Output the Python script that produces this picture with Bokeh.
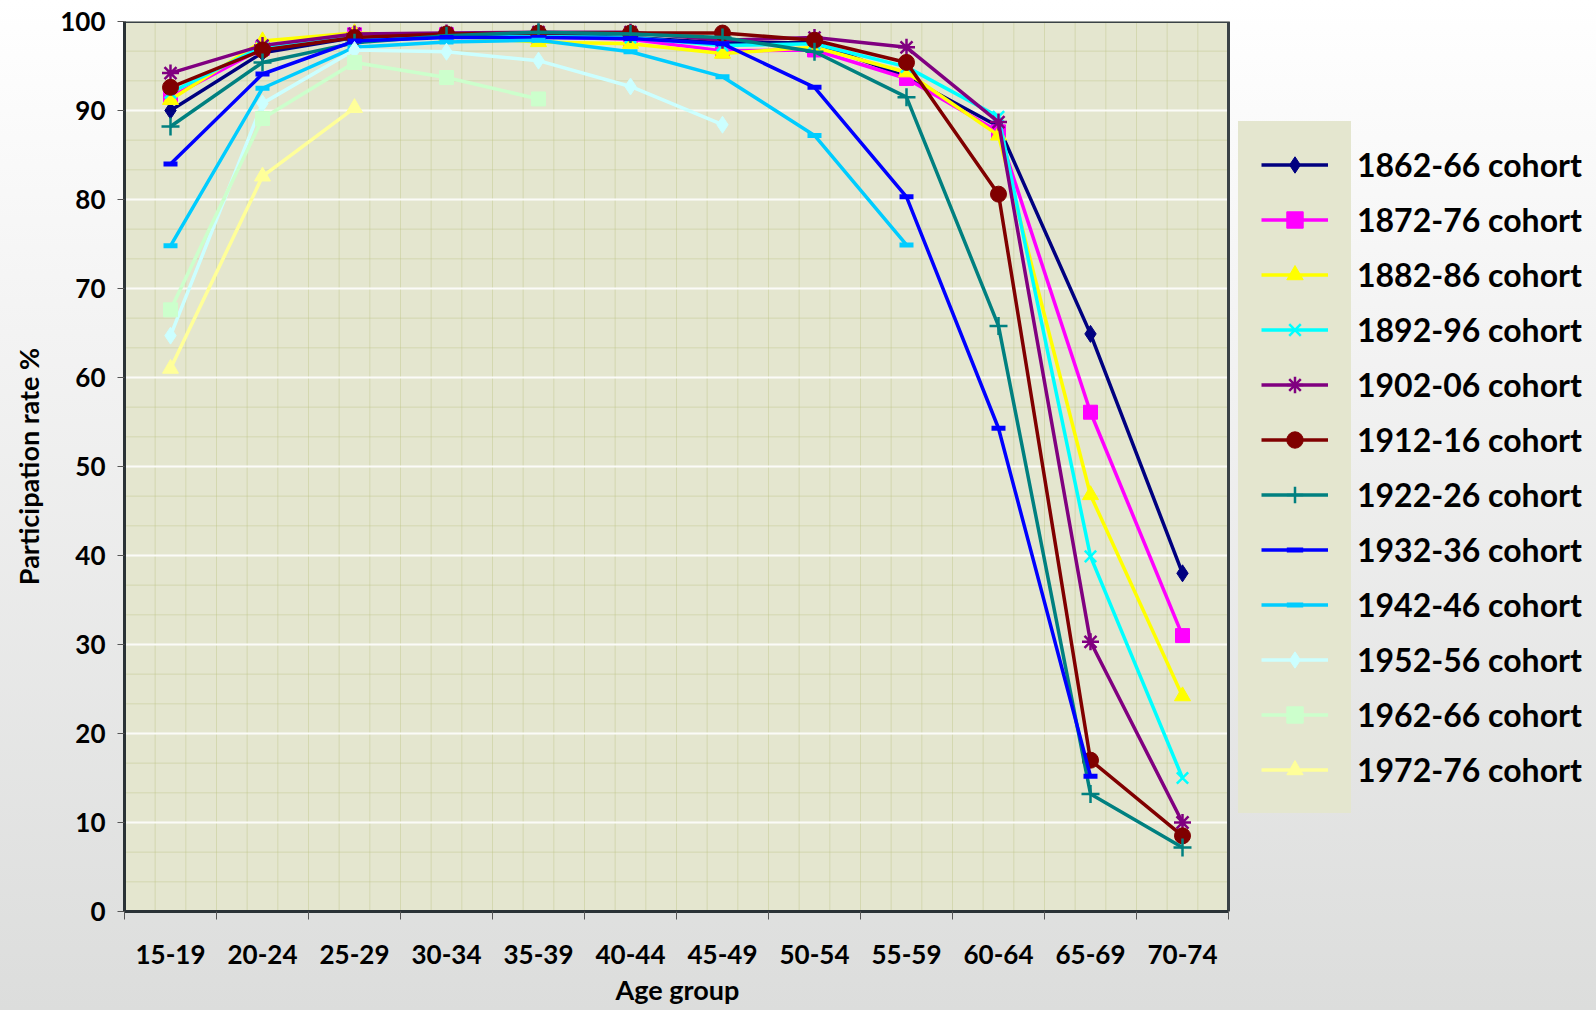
from bokeh.plotting import figure
from bokeh.models import FixedTicker, Legend, LegendItem, ColumnDataSource, Title
from bokeh.embed import file_html
from bokeh.resources import INLINE
import numpy as np

# ---------------- data ----------------
age_groups = ["15-19", "20-24", "25-29", "30-34", "35-39", "40-44",
              "45-49", "50-54", "55-59", "60-64", "65-69", "70-74"]

cohorts = ["1862-66 cohort", "1872-76 cohort", "1882-86 cohort", "1892-96 cohort",
           "1902-06 cohort", "1912-16 cohort", "1922-26 cohort", "1932-36 cohort",
           "1942-46 cohort", "1952-56 cohort", "1962-66 cohort", "1972-76 cohort"]

c1862 = [90.0, 96.5, 98.2, 98.4, 98.5, 98.2, 97.6, 97.6, 93.8, 88.2, 64.9, 38.0]
c1872 = [91.5, 97.0, 98.5, 98.5, 98.3, 98.0, 96.7, 96.8, 93.6, 87.6, 56.1, 31.0]
c1882 = [91.2, 97.8, 98.7, 98.4, 97.7, 97.5, 96.4, 97.1, 94.3, 87.2, 46.8, 24.2]
c1892 = [92.0, 97.2, 98.2, 98.3, 98.3, 98.2, 97.3, 97.5, 94.9, 89.3, 39.9, 15.0]
c1902 = [94.2, 97.3, 98.6, 98.7, 98.8, 98.8, 97.9, 98.2, 97.1, 88.7, 30.3, 10.0]
c1912 = [92.6, 96.8, 98.2, 98.6, 98.7, 98.7, 98.7, 97.9, 95.4, 80.6, 17.0, 8.5]
c1922 = [88.2, 95.4, 97.6, 98.4, 98.8, 98.6, 98.2, 96.6, 91.5, 65.8, 13.2, 7.2]
c1932 = [84.0, 94.1, 97.8, 98.2, 98.2, 98.1, 97.5, 92.6, 80.3, 54.3, 15.2, None]
c1942 = [74.8, 92.5, 97.1, 97.7, 97.9, 96.6, 93.8, 87.2, 74.9, None, None, None]
c1952 = [64.7, 90.8, 96.8, 96.6, 95.6, 92.7, 88.4, None, None, None, None, None]
c1962 = [67.6, 89.1, 95.4, 93.7, 91.3, None, None, None, None, None, None, None]
c1972 = [61.0, 82.6, 90.3, None, None, None, None, None, None, None, None, None]

series = [c1862, c1872, c1882, c1892, c1902, c1912, c1922, c1932, c1942, c1952, c1962, c1972]

colors = ["#000080", "#ff00ff", "#ffff00", "#00ffff", "#800080", "#800000",
          "#008080", "#0000ff", "#00ccff", "#ccffff", "#ccffcc", "#ffff99"]
markers = ["diamond", "square", "triangle", "x", "asterisk", "circle",
           "cross", "dash", "dash", "diamond", "square", "triangle"]
msizes = [17, 14, 16, 16, 17, 16, 18, 14, 14, 17, 14, 16]

y_ticks = list(range(0, 101, 10))

FONT = "Lato"
PLOT_BG = "#e4e6cf"
BORDER = "#3a4247"

n_cat = len(age_groups)
x_lo, x_hi = 0, n_cat
y_lo, y_hi = y_ticks[0], y_ticks[-1]

# ---------------- figure ----------------
# the frame extends to the right edge so the legend (drawn inside it) is not clipped;
# the chart's plotting area is the region x in [0, 12].
p = figure(width=1596, height=1010,
           output_backend="svg", toolbar_location=None,
           x_range=(x_lo, 16), y_range=(y_lo, y_hi),
           min_border_left=124, min_border_right=0, min_border_top=21, min_border_bottom=96,
           background_fill_color=None, border_fill_color=None, outline_line_color=None,
           styles={"background": "linear-gradient(180deg, #ffffff 0%, #f4f4f4 30%, #dcdddc 100%)"})

p.xgrid.grid_line_color = None
p.ygrid.grid_line_color = None

# plotting area background
p.quad(left=[x_lo], right=[x_hi], bottom=[y_lo], top=[y_hi],
       fill_color=PLOT_BG, line_color=None)

# fine olive texture
tx = np.arange(x_lo, x_hi + 0.001, 1 / 3)
ty = np.arange(y_lo, y_hi + 0.001, 10 / 3)
p.segment(x0=tx, y0=[y_lo] * len(tx), x1=tx, y1=[y_hi] * len(tx),
          line_color="#bcc283", line_alpha=0.4, line_width=1)
p.segment(x0=[x_lo] * len(ty), y0=ty, x1=[x_hi] * len(ty), y1=ty,
          line_color="#bcc283", line_alpha=0.4, line_width=1)
# white major gridlines
p.segment(x0=[x_lo] * len(y_ticks), y0=y_ticks, x1=[x_hi] * len(y_ticks), y1=y_ticks,
          line_color="#ffffff", line_alpha=0.9, line_width=2)
# plotting area border
p.quad(left=[x_lo], right=[x_hi], bottom=[y_lo], top=[y_hi],
       fill_color=None, line_color=BORDER, line_width=3)

# axes
xa = p.xaxis[0]
xa.bounds = (x_lo, x_hi)
xa.ticker = FixedTicker(ticks=[i + 0.5 for i in range(n_cat)],
                        minor_ticks=list(range(0, n_cat + 1)))
xa.major_label_overrides = {i + 0.5: g for i, g in enumerate(age_groups)}
xa.major_tick_out = 0
xa.major_tick_in = 0
xa.minor_tick_out = 8
xa.minor_tick_in = 0
xa.minor_tick_line_color = "#555555"
xa.axis_line_color = "#2a3236"
xa.axis_line_width = 3
xa.major_label_text_font = FONT
xa.major_label_text_font_style = "bold"
xa.major_label_text_font_size = "26px"
xa.major_label_text_color = "#000000"
xa.major_label_standoff = 25

# x-axis title, centred under the plotting area (not the whole frame)
p.add_layout(Title(text="Age group", align="left", offset=491, standoff=9,
                   text_font=FONT, text_font_style="bold", text_font_size="27px",
                   text_color="#000000"), "below")

ya = p.yaxis[0]
ya.ticker = FixedTicker(ticks=y_ticks, minor_ticks=[])
ya.major_tick_out = 7
ya.major_tick_in = 0
ya.major_tick_line_color = "#555555"
ya.axis_line_color = "#2a3236"
ya.axis_line_width = 3
ya.major_label_text_font = FONT
ya.major_label_text_font_style = "bold"
ya.major_label_text_font_size = "26px"
ya.major_label_text_color = "#000000"
ya.major_label_standoff = 12
ya.axis_label = "Participation rate %"
ya.axis_label_text_font = FONT
ya.axis_label_text_font_style = "bold"
ya.axis_label_text_font_size = "27px"
ya.axis_label_text_color = "#000000"
ya.axis_label_standoff = 12

# series
glyph_items = []
label_items = []
for name, vals, col, mk, ms in zip(cohorts, series, colors, markers, msizes):
    xs = [i + 0.5 for i, v in enumerate(vals) if v is not None]
    ys = [v for v in vals if v is not None]
    src = ColumnDataSource(dict(x=xs, y=ys))
    ln = p.line("x", "y", source=src, line_color=col, line_width=3.5)
    lw = 5 if mk == "dash" else (2.5 if mk in ("x", "asterisk", "cross") else 1)
    sc = p.scatter("x", "y", source=src, marker=mk, size=ms, fill_color=col,
                   line_color=col, line_width=lw)
    glyph_items.append(LegendItem(label=" ", renderers=[ln, sc]))
    # invisible renderer so the second legend shows the label text only
    ghost = p.line(x=[], y=[], line_alpha=0)
    label_items.append(LegendItem(label=name, renderers=[ghost]))

# legend: swatch column on textured backdrop
legend_sw = Legend(items=glyph_items, location=(1114, 98), orientation="vertical",
                   padding=22, margin=0, spacing=14, label_height=41, glyph_height=41,
                   glyph_width=67, label_standoff=0, label_width=0,
                   label_text_font_size="1px",
                   background_fill_color=PLOT_BG, background_fill_alpha=1.0,
                   border_line_color=PLOT_BG, border_line_width=1)
p.add_layout(legend_sw, "center")

# legend: labels on the slide background
legend_lb = Legend(items=label_items, location=(1232, 121), orientation="vertical",
                   padding=0, margin=0, spacing=14, label_height=41, glyph_height=41,
                   glyph_width=1, label_standoff=0,
                   label_text_font=FONT, label_text_font_style="bold",
                   label_text_font_size="32px", label_text_color="#000000",
                   background_fill_alpha=0, border_line_color=None)
p.add_layout(legend_lb, "center")

open("out.html", "w").write(file_html(p, INLINE))
